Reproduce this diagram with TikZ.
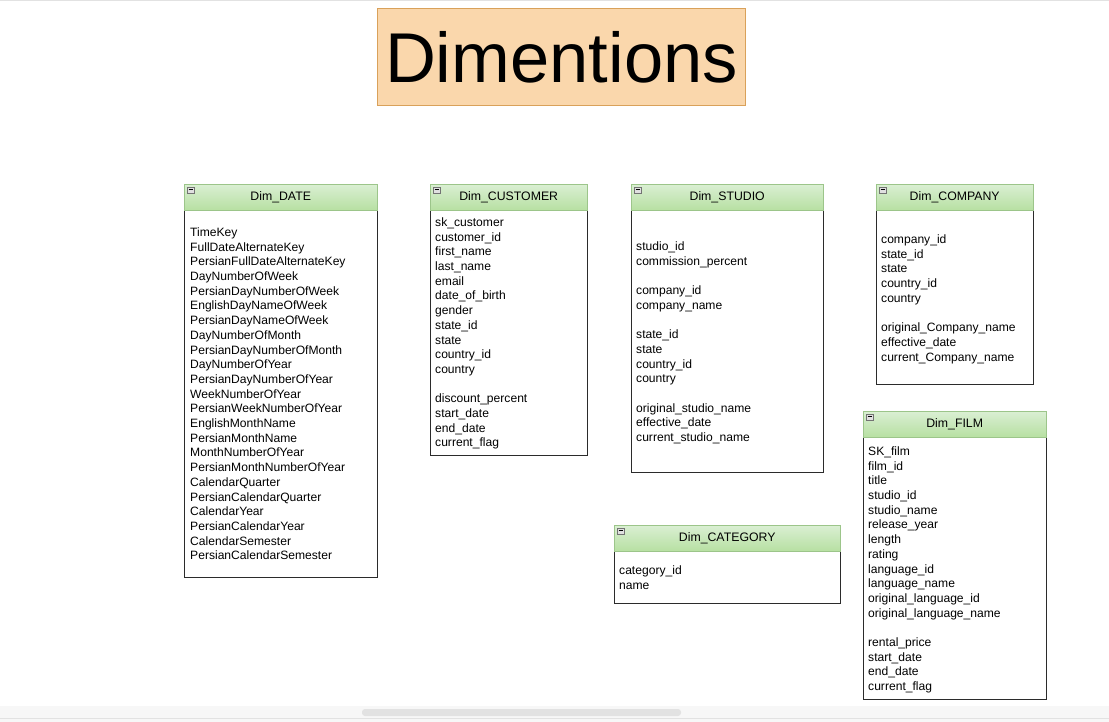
\documentclass[tikz,border=0pt]{standalone}
\usepackage{fontspec}
\setmainfont{Liberation Sans}
\usetikzlibrary{positioning}
\definecolor{ink}     {HTML}{2B2B2B}
\definecolor{hdrtop}  {HTML}{DAEFD3}
\definecolor{hdrbot}  {HTML}{B7E0A2}
\definecolor{hdrline} {HTML}{9CC58A}
\definecolor{ttlfill} {HTML}{FAD7AC}
\definecolor{ttlline} {HTML}{D9A15A}
\definecolor{uigray}  {HTML}{E2E2E2}
\tikzset{
  % --- tables
  frame/.style = {draw=ink, fill=white, line width=0.9pt, anchor=north west,
                  inner sep=0pt},
  hdr/.style   = {draw=hdrline, top color=hdrtop, bottom color=hdrbot,
                  anchor=north west, inner sep=0pt, minimum height=26pt,
                  font=\fontsize{12.3}{14}\selectfont},
  fld/.style   = {anchor=north west, align=left, inner sep=0pt,
                  font=\fontsize{12.1}{14.7}\selectfont},
  icn/.style   = {draw=black!55, fill=black!12, anchor=north west, inner sep=0pt,
                  minimum width=7pt, minimum height=6pt, line width=0.4pt,
                  font=\tiny},
  ttl/.style   = {draw=ttlline, fill=ttlfill, line width=0.8pt, anchor=north west,
                  inner sep=0pt, minimum width=368pt, minimum height=97pt,
                  font=\fontsize{70.5}{72}\selectfont},
}
\newcommand{\minusicon}{\rule[1.3pt]{4pt}{0.8pt}}
\begin{document}
\begin{tikzpicture}[x=1pt,y=-1pt]
  \useasboundingbox (0,0) rectangle (1109,722);
  \fill[white] (0,0) rectangle (1109,722);
  \draw[uigray] (0,0.5) -- (1109,0.5);

  % title
  \node[ttl] (title) at (377,8) {Dimentions};

  % Dim_DATE
  \node[frame, minimum width=193pt, minimum height=367pt] (dateB) at (184,210) {};
  \node[hdr, minimum width=193pt] (dateH) at (184,184) {Dim\_DATE};
  \node[icn] (dateI) at (187,187) {\minusicon};
  \node[fld] (dateF) at (190,226) {\strut TimeKey\\FullDateAlternateKey\\PersianFullDateAlternateKey\\
    DayNumberOfWeek\\PersianDayNumberOfWeek\\EnglishDayNameOfWeek\\PersianDayNameOfWeek\\
    DayNumberOfMonth\\PersianDayNumberOfMonth\\DayNumberOfYear\\PersianDayNumberOfYear\\
    WeekNumberOfYear\\PersianWeekNumberOfYear\\EnglishMonthName\\PersianMonthName\\
    MonthNumberOfYear\\PersianMonthNumberOfYear\\CalendarQuarter\\PersianCalendarQuarter\\
    CalendarYear\\PersianCalendarYear\\CalendarSemester\\PersianCalendarSemester};

  % Dim_CUSTOMER
  \node[frame, minimum width=157pt, minimum height=245pt] (custB) at (430,210) {};
  \node[hdr, minimum width=157pt] (custH) at (430,184) {Dim\_CUSTOMER};
  \node[icn] (custI) at (433,187) {\minusicon};
  \node[fld] (custF) at (435,216) {\strut sk\_customer\\customer\_id\\first\_name\\last\_name\\
    email\\date\_of\_birth\\gender\\state\_id\\state\\country\_id\\country\\\mbox{}\\
    discount\_percent\\start\_date\\end\_date\\current\_flag};

  % Dim_STUDIO
  \node[frame, minimum width=192pt, minimum height=262pt] (studB) at (631,210) {};
  \node[hdr, minimum width=192pt] (studH) at (631,184) {Dim\_STUDIO};
  \node[icn] (studI) at (634,187) {\minusicon};
  \node[fld] (studF) at (636,240) {\strut studio\_id\\commission\_percent\\\mbox{}\\
    company\_id\\company\_name\\\mbox{}\\state\_id\\state\\country\_id\\country\\\mbox{}\\
    original\_studio\_name\\effective\_date\\current\_studio\_name};

  % Dim_COMPANY
  \node[frame, minimum width=157pt, minimum height=174pt] (compB) at (876,210) {};
  \node[hdr, minimum width=157pt] (compH) at (876,184) {Dim\_COMPANY};
  \node[icn] (compI) at (879,187) {\minusicon};
  \node[fld] (compF) at (881,233) {\strut company\_id\\state\_id\\state\\country\_id\\country\\\mbox{}\\
    original\_Company\_name\\effective\_date\\current\_Company\_name};

  % Dim_FILM
  \node[frame, minimum width=183pt, minimum height=262pt] (filmB) at (863,437) {};
  \node[hdr, minimum width=183pt] (filmH) at (863,411) {Dim\_FILM};
  \node[icn] (filmI) at (866,414) {\minusicon};
  \node[fld] (filmF) at (868,445) {\strut SK\_film\\film\_id\\title\\studio\_id\\studio\_name\\
    release\_year\\length\\rating\\language\_id\\language\_name\\original\_language\_id\\
    original\_language\_name\\\mbox{}\\rental\_price\\start\_date\\end\_date\\current\_flag};

  % Dim_CATEGORY
  \node[frame, minimum width=226pt, minimum height=52pt] (catB) at (614,551) {};
  \node[hdr, minimum width=226pt] (catH) at (614,525) {Dim\_CATEGORY};
  \node[icn] (catI) at (617,528) {\minusicon};
  \node[fld] (catF) at (619,564) {\strut category\_id\\name};

  % window strip
  \fill[black!3] (0,706) rectangle (1109,722);
  \fill[uigray, rounded corners=3pt] (362,709) rectangle (681,716);
  \draw[uigray] (0,718.5) -- (1109,718.5);
\end{tikzpicture}
\end{document}
